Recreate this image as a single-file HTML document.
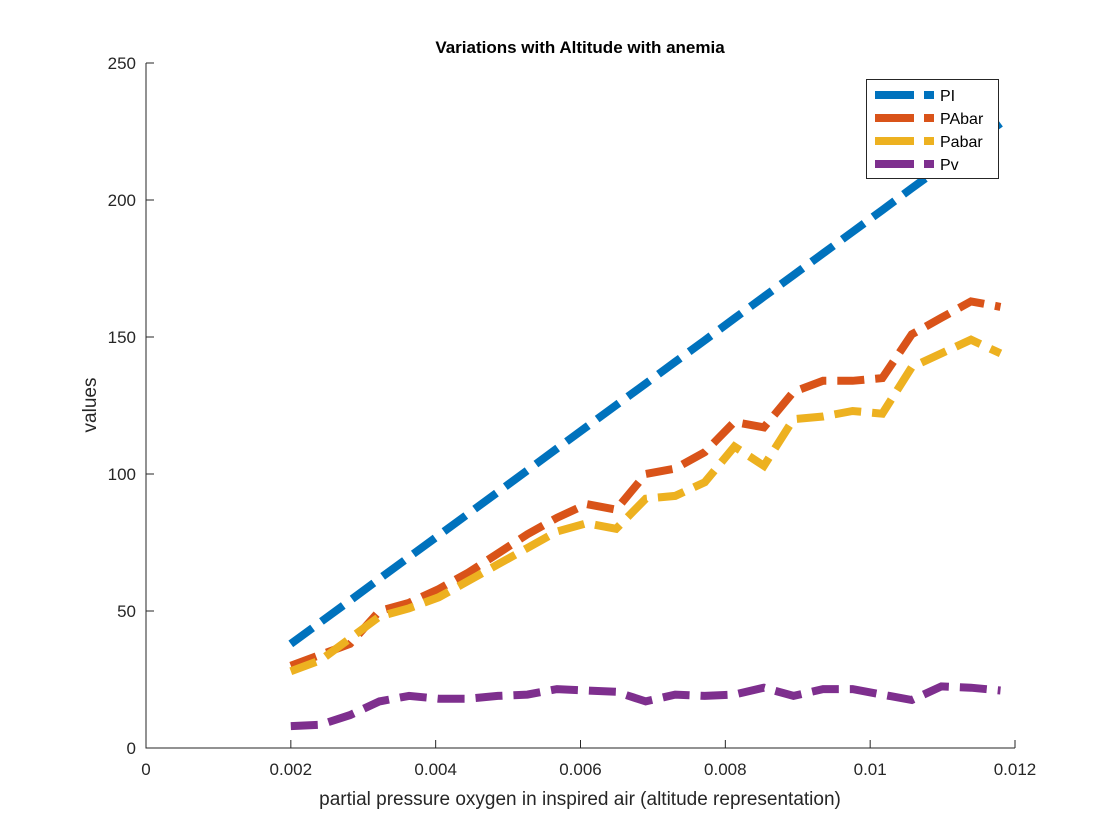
<!DOCTYPE html>
<html><head><meta charset="utf-8"><style>
body{margin:0;background:#fff;}
svg{display:block;font-family:"Liberation Sans",Arial,sans-serif;}
</style></head><body>
<svg id="chart" width="1120" height="840">
<rect width="1120" height="840" fill="#fff"/>
<g id="plot"></g>
</svg>
<script>
const xValues=[0.002,0.002408,0.002817,0.003225,0.003633,0.004042,0.00445,0.004858,0.005267,0.005675,0.006083,0.006492,0.0069,0.007308,0.007717,0.008125,0.008533,0.008942,0.00935,0.009758,0.010167,0.010575,0.010983,0.011392,0.0118];
const seriesNames=["PI","PAbar","Pabar","Pv"];
const seriesColors=["#0072BD","#D95319","#EDB120","#7E2F8E"];
const piValues=[38,45.9,53.8,61.8,69.7,77.6,85.5,93.4,101.3,109.3,117.2,125.1,133,140.9,148.8,156.8,164.7,172.6,180.5,188.4,196.3,204.3,212.2,220.1,228];
const pAbarValues=[30,34,38,50,53,58,64,71,78,84,89,87,100,102,108,119,117,130,134,134,135,151,157,163,161];
const pabarValues=[28,32,40,48,51,55,61,67,73,79,82,80,91,92,97,110,103,120,121,123,122,139,144,149,144];
const pvValues=[8,8.5,12,17,19,18,18,19,19.5,21.5,21,20.5,17,19.5,19,19.5,22,19,21.5,21.5,19.5,17.5,22.5,22,21];
const xTicks=[0,0.002,0.004,0.006,0.008,0.01,0.012];
const xTickLabels=["0","0.002","0.004","0.006","0.008","0.01","0.012"];
const yTicks=[0,50,100,150,200,250];

const L=146,R=1015,T=63,B=748;
const xs=v=>L+(v-0)/(0.012)*(R-L);
const ys=v=>B-(v/250)*(B-T);
const NS="http://www.w3.org/2000/svg";
const g=document.getElementById('plot');
function mk(tag,attrs,parent){const e=document.createElementNS(NS,tag);for(const k in attrs)e.setAttribute(k,attrs[k]);(parent||g).appendChild(e);return e;}

// axes
const ax=mk('path',{d:`M${L},${T}V${B}H${R}`,fill:'none',stroke:'#262626','stroke-width':1});


xTicks.forEach((t,i)=>{
  const x=xs(t);
  const tk=mk('line',{x1:x,x2:x,y1:B,y2:B-8,stroke:'#262626'});
  
  
  const tl=mk('text',{x:x,y:B+27,'text-anchor':'middle','font-size':17,fill:'#262626'});
  tl.textContent=xTickLabels[i];
  
  
});
yTicks.forEach(t=>{
  const y=ys(t);
  const tk=mk('line',{x1:L,x2:L+8,y1:y,y2:y,stroke:'#262626'});
  
  
  const tl=mk('text',{x:L-10,y:y+6,'text-anchor':'end','font-size':17,fill:'#262626'});
  tl.textContent=String(t);
  
  
});
const series=[piValues,pAbarValues,pabarValues,pvValues];
series.forEach((vals,si)=>{
  const d=vals.map((v,i)=>(i?'L':'M')+xs(xValues[i]).toFixed(1)+','+ys(v).toFixed(1)).join('');
  const p=mk('path',{d:d,fill:'none',stroke:seriesColors[si],'stroke-width':8,'stroke-dasharray':'27,11'});
  
  
});
// labels
const title=mk('text',{x:580,y:53,'text-anchor':'middle','font-size':17,'font-weight':'bold',fill:'#000'});
title.textContent='Variations with Altitude with anemia';


const xl=mk('text',{x:580,y:805,'text-anchor':'middle','font-size':19,fill:'#262626'});
xl.textContent='partial pressure oxygen in inspired air (altitude representation)';


const yl=mk('text',{x:0,y:0,'text-anchor':'middle','font-size':19,fill:'#262626',transform:'translate(96,405) rotate(-90)'});
yl.textContent='values';


// legend
const lg=mk('g',{});


mk('rect',{x:866.5,y:79.5,width:132,height:99,fill:'#fff',stroke:'#262626','stroke-width':1},lg);
seriesNames.forEach((n,i)=>{
  const y=95+i*23;
  const ent=mk('g',{},lg);
  
  
  mk('line',{x1:875,x2:914,y1:y,y2:y,stroke:seriesColors[i],'stroke-width':8},ent);
  mk('line',{x1:924,x2:934,y1:y,y2:y,stroke:seriesColors[i],'stroke-width':8},ent);
  const t=mk('text',{x:940,y:y+6,'font-size':16,fill:'#000'},ent);
  t.textContent=n;
});
</script>
</body></html>
